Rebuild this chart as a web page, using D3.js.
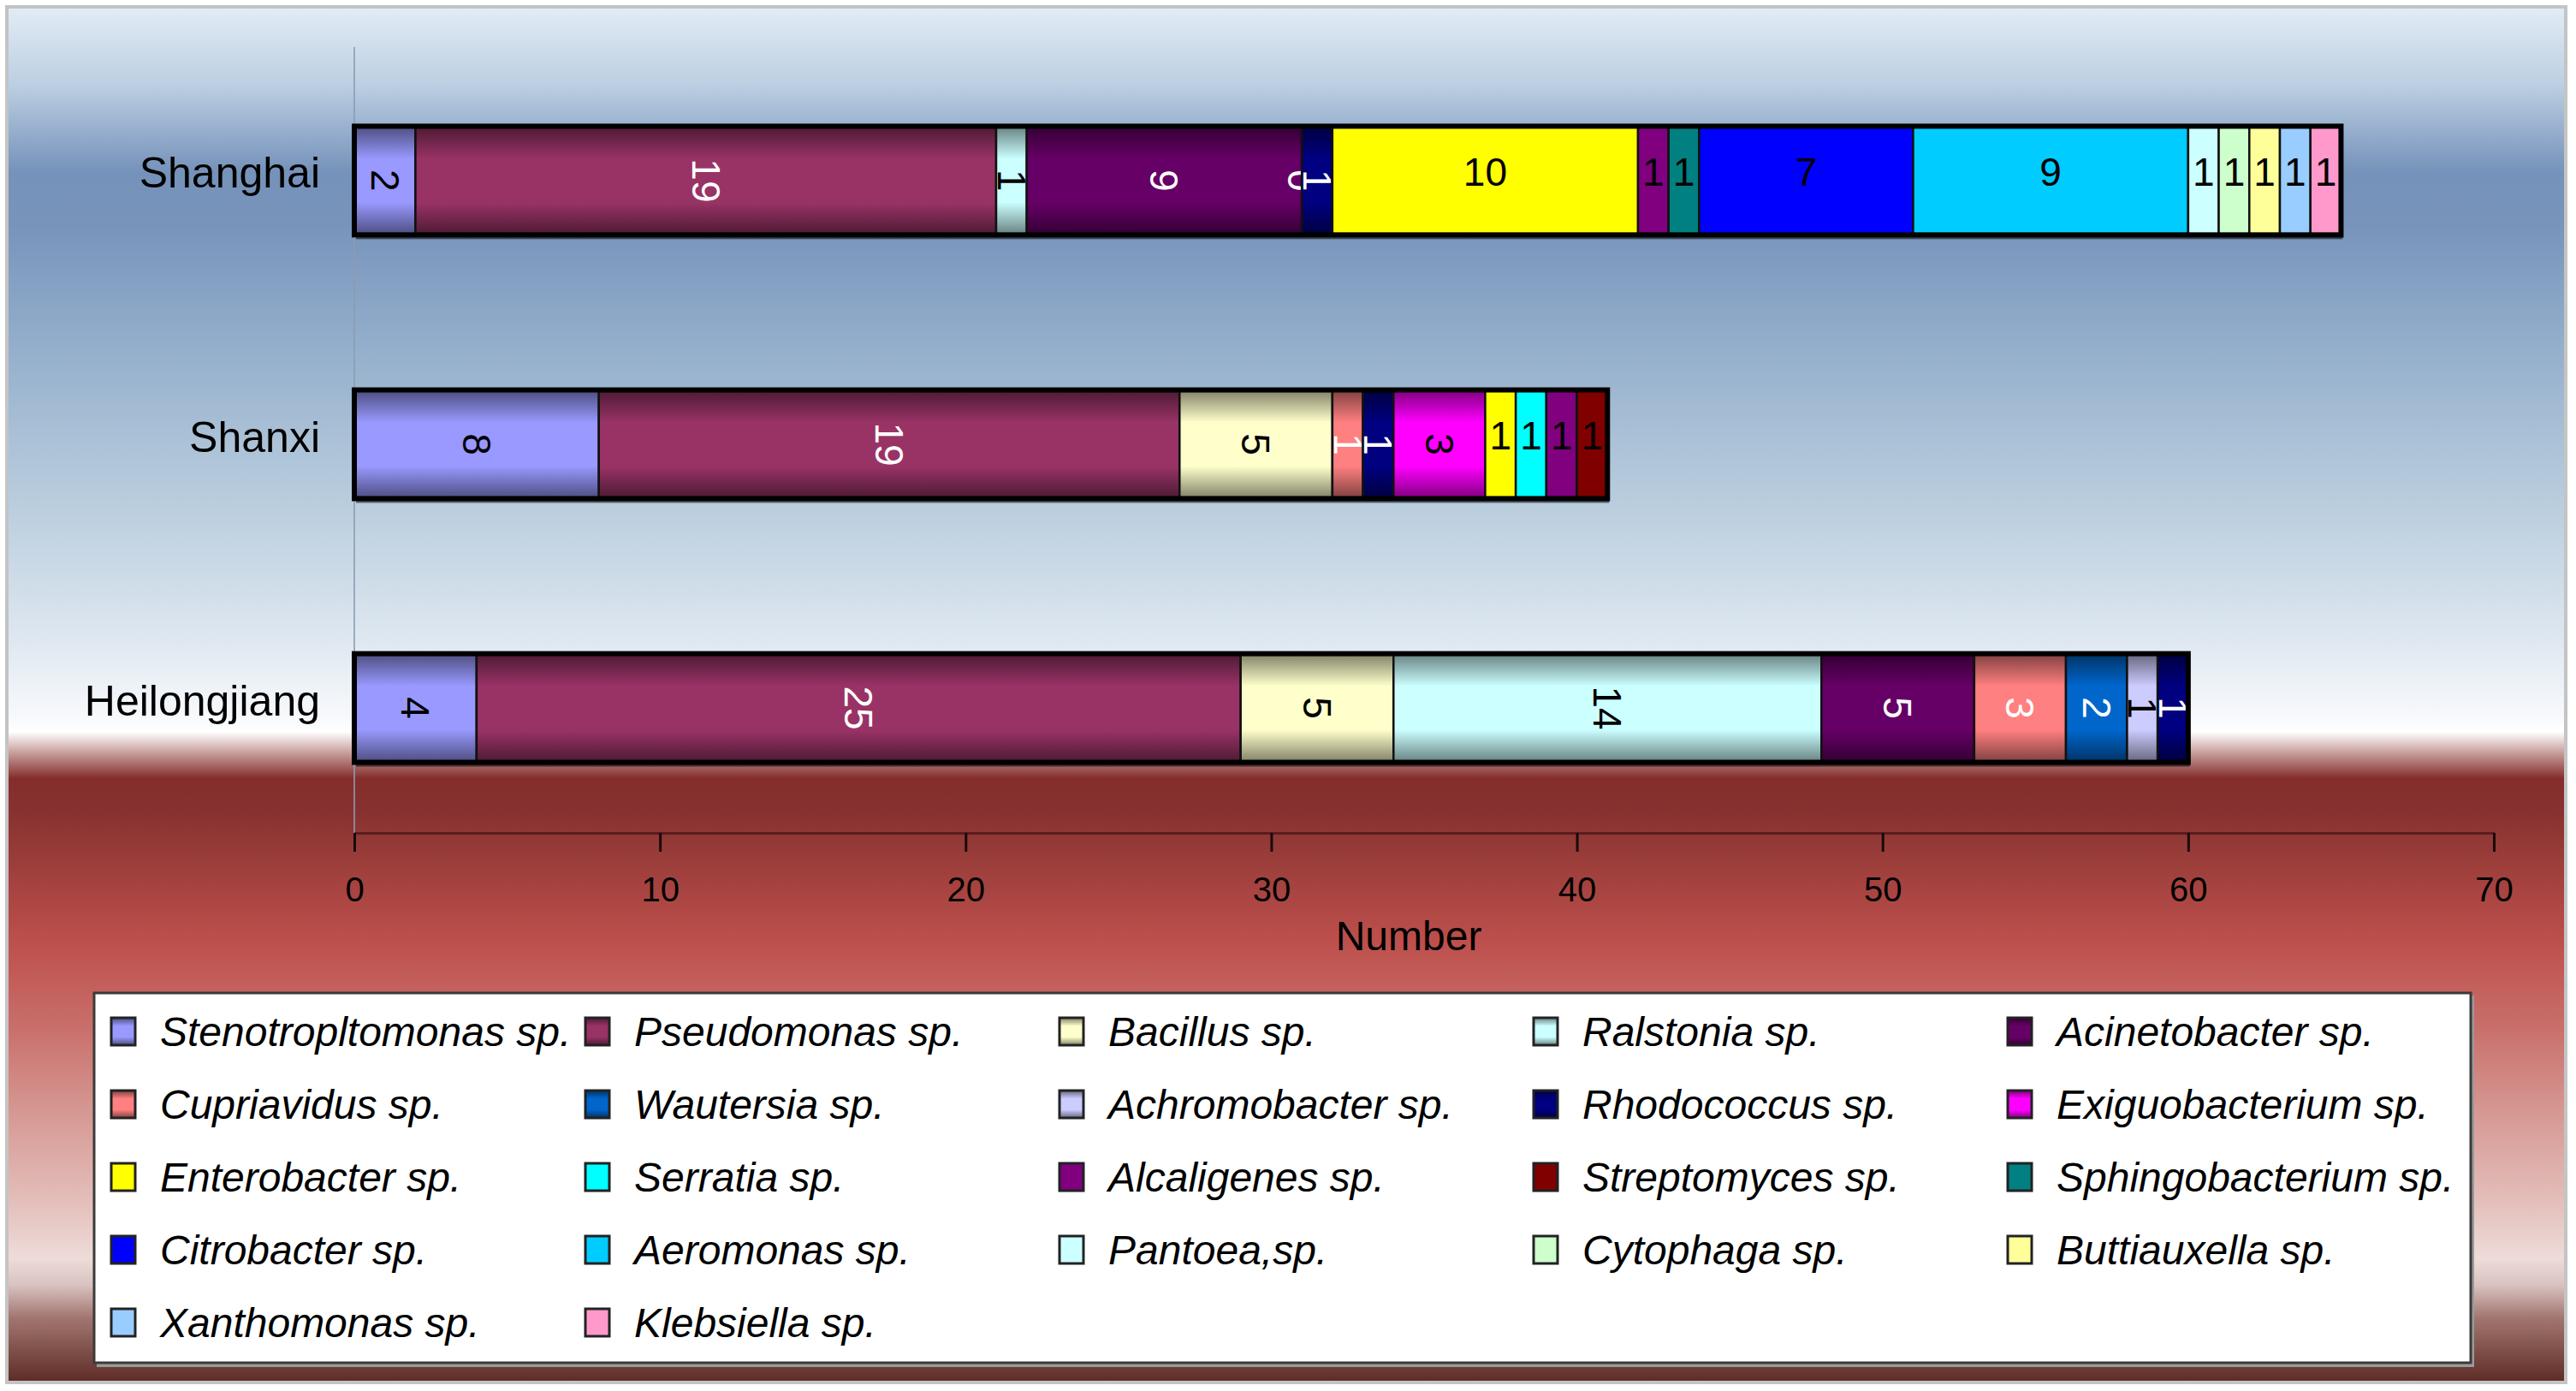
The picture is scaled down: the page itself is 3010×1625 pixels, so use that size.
<!DOCTYPE html>
<html>
<head>
<meta charset="utf-8">
<script src="https://cdn.jsdelivr.net/npm/d3@7"></script>
<style>
body { margin: 0; background: #fff; }
svg { display: block; }
text { font-family: "Liberation Sans", Arial, Helvetica, sans-serif; }
</style>
</head>
<body>
<div id="chart"></div>
<script>
// regions (top to bottom) and species (stack + legend order)
var regions = ["Shanghai", "Shanxi", "Heilongjiang"];
var species = ["Stenotropltomonas sp.", "Pseudomonas sp.", "Bacillus sp.", "Ralstonia sp.", "Acinetobacter sp.",
    "Cupriavidus sp.", "Wautersia sp.", "Achromobacter sp.", "Rhodococcus sp.", "Exiguobacterium sp.",
    "Enterobacter sp.", "Serratia sp.", "Alcaligenes sp.", "Streptomyces sp.", "Sphingobacterium sp.",
    "Citrobacter sp.", "Aeromonas sp.", "Pantoea,sp.", "Cytophaga sp.", "Buttiauxella sp.",
    "Xanthomonas sp.", "Klebsiella sp."];
var speciesColors = ["#9999ff", "#993366", "#ffffcc", "#ccffff", "#660066",
    "#ff8080", "#0066cc", "#ccccff", "#000080", "#ff00ff",
    "#ffff00", "#00ffff", "#800080", "#800000", "#008080",
    "#0000ff", "#00ccff", "#ccffff", "#ccffcc", "#ffff99",
    "#99ccff", "#ff99cc"];

// counts per species (null = not found)
var shanghaiCounts = [2, 19, null, 1, 9, 0, null, null, 1, null, 10, null, 1, null, 1, 7, 9, 1, 1, 1, 1, 1];
var shanxiCounts = [8, 19, 5, null, null, 1, null, null, 1, 3, 1, 1, 1, 1, null, null, null, null, null, null, null, null];
var heilongjiangCounts = [4, 25, 5, 14, 5, 3, 2, 1, 1, null, null, null, null, null, null, null, null, null, null, null, null, null];

var xTicks = [0, 10, 20, 30, 40, 50, 60, 70];

var counts = {"Shanghai": shanghaiCounts, "Shanxi": shanxiCounts, "Heilongjiang": heilongjiangCounts};

// first ten series get shaded fills and rotated labels
var shaded = species.map(function(d, i) { return i < 10; });
var whiteLabel = ["Pseudomonas sp.", "Acinetobacter sp.", "Cupriavidus sp.", "Wautersia sp.", "Rhodococcus sp."];

var W = 3010, H = 1625;
var svg = d3.select("#chart").append("svg")
    .attr("width", W)
    .attr("height", H);

var defs = svg.append("defs");

// background gradient
var bgStops = [
    [0, "#e2ecf5"], [0.057, "#bccfe2"], [0.12, "#7592ba"], [0.16, "#7894bb"],
    [0.244, "#93aecb"], [0.368, "#bccfdf"], [0.462, "#dfe8f1"], [0.518, "#f8fafc"],
    [0.527, "#ffffff"], [0.543, "#c49a97"], [0.561, "#842d2c"], [0.586, "#873230"],
    [0.68, "#bd504c"], [0.742, "#c96f6b"], [0.804, "#d69893"], [0.866, "#e3bdb9"],
    [0.91, "#eedcd9"], [0.929, "#d9c3c0"], [0.953, "#a27670"], [1, "#5d2b25"]
];
var bg = defs.append("linearGradient").attr("id", "bg")
    .attr("x1", 0).attr("y1", 0).attr("x2", 0).attr("y2", 1);
bg.selectAll("stop").data(bgStops).enter().append("stop")
    .attr("offset", function(d) { return d[0]; })
    .attr("stop-color", function(d) { return d[1]; });

// one shaded gradient per species
species.forEach(function(s, i) {
    var c = speciesColors[i];
    var g = defs.append("linearGradient").attr("id", "sp" + i)
        .attr("x1", 0).attr("y1", 0).attr("x2", 0).attr("y2", 1);
    var dark = d3.interpolateRgb(c, "#000")(0.5);
    var stops = shaded[i]
        ? [[0, dark], [0.3, c], [0.7, c], [1, dark]]
        : [[0, c], [1, c]];
    g.selectAll("stop").data(stops).enter().append("stop")
        .attr("offset", function(d) { return d[0]; })
        .attr("stop-color", function(d) { return d[1]; });
});

svg.append("rect")
    .attr("x", 8).attr("y", 8)
    .attr("width", 2990).attr("height", 1607)
    .attr("fill", "url(#bg)")
    .attr("stroke", "#c4c4c4")
    .attr("stroke-width", 4);

// scales
var x = d3.scaleLinear().domain([0, 70]).range([414, 2914]);
var y = d3.scaleBand().domain(regions).range([55, 983])
    .paddingInner(0.588).paddingOuter(0.3);

var axisY = 973;

// vertical axis line
svg.append("line")
    .attr("x1", x(0)).attr("x2", x(0))
    .attr("y1", 55).attr("y2", 995)
    .attr("stroke", "#8a9cb2")
    .attr("stroke-opacity", 0.8)
    .attr("stroke-width", 2);

// x axis
var xAxis = svg.append("g")
    .attr("transform", "translate(0," + axisY + ")")
    .call(d3.axisBottom(x).tickValues(xTicks).tickSize(22).tickSizeOuter(0).tickPadding(30));
xAxis.select(".domain").attr("stroke", "#5a1d1d").attr("stroke-width", 3);
xAxis.selectAll(".tick line").attr("stroke", "#1a0a0a").attr("stroke-width", 3);
xAxis.selectAll(".tick text")
    .attr("fill", "#000")
    .style("font-size", "40px")
    .style("font-family", "'Liberation Sans', Arial, sans-serif");

svg.append("text")
    .attr("x", 1646)
    .attr("y", 1093)
    .attr("dy", "0.35em")
    .attr("text-anchor", "middle")
    .style("font-size", "48px")
    .text("Number");

// category labels
svg.selectAll(".cat")
    .data(regions)
    .enter().append("text")
    .attr("class", "cat")
    .attr("x", 374)
    .attr("y", function(d) { return y(d) + y.bandwidth() / 2 - 9; })
    .attr("dy", "0.35em")
    .attr("text-anchor", "end")
    .style("font-size", "50px")
    .text(function(d) { return d; });

// stacked bars
var table = regions.map(function(r) {
    var row = {region: r};
    species.forEach(function(s, i) { row[s] = counts[r][i] == null ? 0 : counts[r][i]; });
    return row;
});
var stacked = d3.stack().keys(species)(table);

var totals = regions.map(function(r) { return d3.sum(counts[r]); });

// bar shadow and outline
svg.selectAll(".shadow")
    .data(regions)
    .enter().append("rect")
    .attr("x", x(0) + 2)
    .attr("y", function(d) { return y(d) + 5; })
    .attr("width", function(d, i) { return x(totals[i]) - x(0); })
    .attr("height", y.bandwidth())
    .attr("fill", "#000")
    .attr("fill-opacity", 0.55);

var layers = svg.selectAll(".layer")
    .data(stacked)
    .enter().append("g")
    .attr("class", "layer");

layers.selectAll("rect")
    .data(function(d) {
        return d.map(function(p, j) { return {k: d.index, p: p, r: regions[j]}; })
            .filter(function(e) { return counts[e.r][e.k] != null && counts[e.r][e.k] > 0; });
    })
    .enter().append("rect")
    .attr("x", function(d) { return x(d.p[0]); })
    .attr("y", function(d) { return y(d.r); })
    .attr("width", function(d) { return x(d.p[1]) - x(d.p[0]); })
    .attr("height", y.bandwidth())
    .attr("fill", function(d) { return "url(#sp" + d.k + ")"; })
    .attr("stroke", "#111")
    .attr("stroke-width", 2.5);

svg.selectAll(".outline")
    .data(regions)
    .enter().append("rect")
    .attr("x", x(0))
    .attr("y", function(d) { return y(d); })
    .attr("width", function(d, i) { return x(totals[i]) - x(0); })
    .attr("height", y.bandwidth())
    .attr("fill", "none")
    .attr("stroke", "#000")
    .attr("stroke-width", 6);

// value labels
layers.selectAll("text")
    .data(function(d) {
        return d.map(function(p, j) { return {k: d.index, p: p, r: regions[j], v: counts[regions[j]][d.index]}; })
            .filter(function(e) { return e.v != null; });
    })
    .enter().append("text")
    .attr("transform", function(d) {
        var cx = x((d.p[0] + d.p[1]) / 2);
        var cy = y(d.r) + y.bandwidth() / 2;
        return shaded[d.k]
            ? "translate(" + cx + "," + cy + ") rotate(90)"
            : "translate(" + cx + "," + (cy - 10) + ")";
    })
    .attr("dy", "0.35em")
    .attr("text-anchor", "middle")
    .attr("fill", function(d) { return whiteLabel.indexOf(species[d.k]) >= 0 ? "#fff" : "#000"; })
    .style("font-size", "46px")
    .text(function(d) { return d.v; });

// legend
var legend = svg.append("g");
legend.append("rect")
    .attr("x", 113).attr("y", 1163)
    .attr("width", 2778).attr("height", 434)
    .attr("fill", "#9a9a9a");
legend.append("rect")
    .attr("x", 110).attr("y", 1160)
    .attr("width", 2777).attr("height", 432)
    .attr("fill", "#fff")
    .attr("stroke", "#3a3a3a")
    .attr("stroke-width", 3);

var items = legend.selectAll(".item")
    .data(species)
    .enter().append("g")
    .attr("class", "item")
    .attr("transform", function(d, i) {
        return "translate(" + (130 + (i % 5) * 554) + "," + (1205 + Math.floor(i / 5) * 85) + ")";
    });
items.append("rect")
    .attr("x", 0).attr("y", -16)
    .attr("width", 28).attr("height", 32)
    .attr("fill", function(d, i) { return "url(#sp" + i + ")"; })
    .attr("stroke", "#222")
    .attr("stroke-width", 3);
items.append("text")
    .attr("x", 57)
    .attr("dy", "0.35em")
    .style("font-size", "48px")
    .style("font-style", "italic")
    .text(function(d) { return d; });
</script>
</body>
</html>
